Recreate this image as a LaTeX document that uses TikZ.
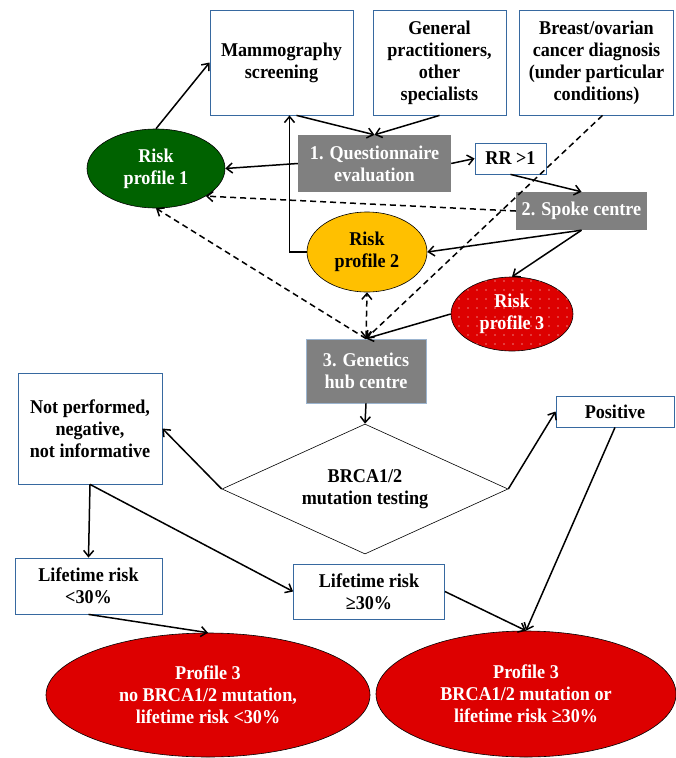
\documentclass[tikz,border=0pt]{standalone}
\usepackage{fontspec}
\setmainfont{Liberation Serif}[FakeStretch=0.93]
\usetikzlibrary{arrows.meta,shapes.geometric,patterns.meta}
\definecolor{boxblue}{RGB}{55,105,160}
\definecolor{hubgray}{RGB}{128,128,128}
\definecolor{rgreen}{RGB}{0,98,0}
\definecolor{ryellow}{RGB}{255,192,0}
\definecolor{rred}{RGB}{221,0,0}
\begin{document}
\begin{tikzpicture}[x=1pt,y=-1pt,
  every node/.style={font=\bfseries\fontsize{19.5}{22}\selectfont,align=center,inner sep=0pt},
  wbox/.style={draw=boxblue,line width=0.8pt,fill=white,rectangle},
  gbox/.style={fill=hubgray,text=white,rectangle},
  oval/.style={ellipse,draw=black,line width=0.6pt},
  >={Straight Barb[length=6pt,width=10pt]},
  conn/.style={->,line width=1.5pt},
  dconn/.style={->,line width=1.5pt,dash pattern=on 6pt off 4pt}]
\useasboundingbox (0,0) rectangle (675,758);

\node[wbox,minimum width=143,minimum height=105] (mammo) at (281.5,62.5) {Mammography\\screening};
\node[wbox,minimum width=133,minimum height=105] (gp) at (439.5,62.5) {General\\practitioners,\\other\\specialists};
\node[wbox,minimum width=154,minimum height=105] (breast) at (596.5,62.5) {Breast/ovarian\\cancer diagnosis\\(under particular\\conditions)};

\node[gbox,minimum width=153,minimum height=57] (quest) at (374.5,163.5) {1. Questionnaire\\evaluation};
\node[wbox,minimum width=71,minimum height=31] (rr) at (510.5,158.5) {RR >1};
\node[gbox,minimum width=131,minimum height=38] (spoke) at (581.5,211) {2. Spoke centre};

\node[oval,fill=rgreen,text=white,minimum width=138,minimum height=79] (rp1) at (156,168.5) {Risk\\profile 1};
\node[oval,fill=ryellow,minimum width=120,minimum height=80] (rp2) at (367,252) {Risk\\profile 2};
\node[oval,fill=rred,text=white,minimum width=122,minimum height=74,
  postaction={pattern={Dots[distance=9pt,radius=0.6pt]},pattern color=white}] (rp3) at (512,314) {Risk\\profile 3};

\node[gbox,draw=boxblue!50,line width=0.8pt,minimum width=120,minimum height=64] (hub) at (366,371) {3. Genetics\\hub centre};

\node[wbox,minimum width=144,minimum height=111] (notperf) at (90,428.5) {Not performed,\\negative,\\not informative};
\node[diamond,draw,line width=0.6pt,aspect=2.2,minimum width=286,minimum height=130] (brca) at (365,489) {BRCA1/2\\mutation testing};
\node[wbox,minimum width=118,minimum height=31] (positive) at (615,411.5) {Positive};

\node[wbox,minimum width=147,minimum height=56] (lt30) at (88.5,586) {Lifetime risk\\<30\%};
\node[wbox,minimum width=151,minimum height=55] (ge30) at (369,591.5) {Lifetime risk\\≥30\%};

\node[oval,fill=rred,text=white,minimum width=324,minimum height=124] (p3a) at (208,695) {Profile 3\\no BRCA1/2 mutation,\\lifetime risk <30\%};
\node[oval,fill=rred,text=white,minimum width=300,minimum height=126] (p3b) at (526,694) {Profile 3\\BRCA1/2 mutation or\\lifetime risk ≥30\%};

\draw[conn] (rp1.north) -- (mammo.west);
\draw[conn] ([xshift=15pt]mammo.south) -- (quest.north);
\draw[conn] (gp.south) -- (quest.north);
\draw[conn] (quest.west) -- (rp1.east);
\draw[conn] (quest.east) -- (rr.west);
\draw[conn] (rr.south) -- (spoke.north);
\draw[dconn] (spoke.west) -- (rp1.-29);
\draw[conn] (spoke.south) -- (rp2.east);
\draw[conn] (spoke.south) -- (rp3.north);
\draw[conn] (rp2.west) -| ([xshift=8pt]mammo.south);

\draw[dconn,<->] (hub.north) -- (rp2.south);
\draw[dconn] (hub.north) -- (rp1.south);
\draw[dconn] ([xshift=6pt]breast.south) -- (hub.north);
\draw[conn] (rp3.west) -- (hub.north);
\draw[conn] (hub.south) -- (brca.north);

\draw[conn] (brca.west) -- (notperf.east);
\draw[conn] (brca.east) -- (positive.west);
\draw[conn] (notperf.south) -- (lt30.north);
\draw[conn] (notperf.south) -- (ge30.west);
\draw[conn] (lt30.south) -- (p3a.north);
\draw[conn] (ge30.east) -- (p3b.north);
\draw[conn] (positive.south) -- (p3b.north);
\end{tikzpicture}
\end{document}
